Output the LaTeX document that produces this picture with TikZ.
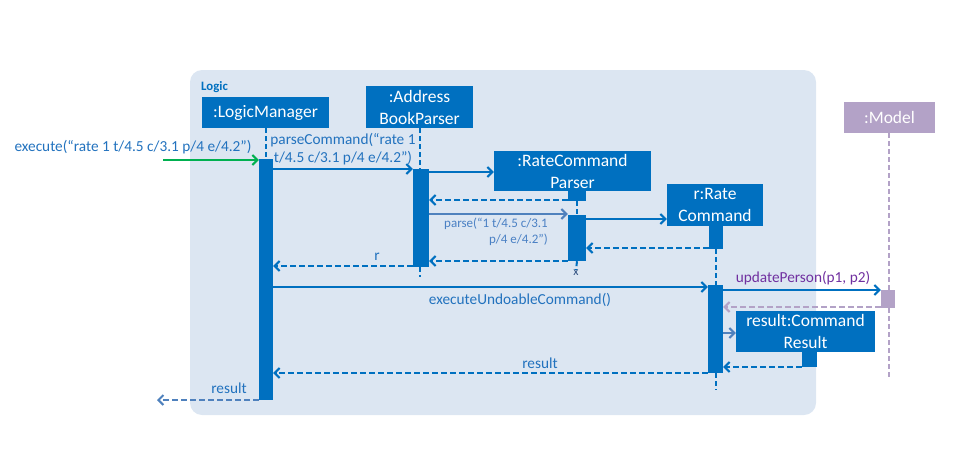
\documentclass[tikz,border=0pt]{standalone}
\usepackage{fontspec}
\setmainfont{Carlito}
\usetikzlibrary{arrows.meta,calc}
\definecolor{uml}{HTML}{0070C0}
\definecolor{steel}{HTML}{4F81BD}
\definecolor{framebg}{HTML}{DCE6F2}
\definecolor{lav}{HTML}{B3A2C7}
\definecolor{purp}{HTML}{7030A0}
\definecolor{grn}{HTML}{00B050}
\definecolor{lbl}{HTML}{2272BE}
\definecolor{lbltwo}{HTML}{4A80C4}
\definecolor{xcol}{HTML}{2F4F7F}
\begin{document}
\begin{tikzpicture}[x=1pt,y=-1pt,
  objbox/.style={fill=uml, text=white, inner sep=0pt, align=center, font=\fontsize{17.5}{22}\selectfont},
  act/.style={inner sep=0pt, draw=none},
  lifeline/.style={uml, line width=2pt, dash pattern=on 5pt off 3pt},
  msg/.style={uml, line width=2pt, -{Straight Barb[length=5pt,width=10pt]}},
  ret/.style={msg, dash pattern=on 6pt off 3pt},
  lab/.style={text=lbl, font=\fontsize{15.3}{18}\selectfont, inner sep=0pt},
]
\useasboundingbox (0,0) rectangle (960,455);
% frame
\fill[framebg, rounded corners=12pt] (190,70) rectangle (816,415);
\node[anchor=west, text=uml, inner sep=0pt, font=\fontsize{12.8}{14}\selectfont\bfseries] (logic) at (201,87) {Logic};

% object boxes
\node[objbox, minimum width=127pt, minimum height=31pt] (lm) at (265.5,112.5) {:LogicManager};
\node[objbox, minimum width=107pt, minimum height=42pt] (abp) at (419.5,107) {:Address\\BookParser};
\node[objbox, minimum width=157pt, minimum height=40pt] (rcp) at (572.5,171) {:RateCommand\\Parser};
\node[objbox, minimum width=96pt, minimum height=42pt] (rc) at (715,205) {r:Rate\\Command};
\node[objbox, minimum width=139pt, minimum height=41pt] (crr) at (805.5,331.5) {result:Command\\Result};
\node[objbox, fill=lav, minimum width=91pt, minimum height=31pt] (model) at (889.5,117.5) {:Model};

% lifeline end coordinates
\coordinate (abpend) at (420,277);
\coordinate (rcend) at (716,390);
\coordinate (modelend) at (889,377);

% x mark
\node[text=xcol, inner sep=0pt, font=\fontsize{12}{12}\selectfont] (rcpx) at (576,273) {x};

% activation placeholders (filled after the lifelines)
\node[act, minimum width=14pt, minimum height=241pt] (lmact) at (266,279.5) {};
\node[act, minimum width=16pt, minimum height=98pt] (abpact) at (421,218) {};
\node[act, minimum width=18pt, minimum height=10pt] (rcpact0) at (577,196) {};
\node[act, minimum width=18pt, minimum height=46pt] (rcpact) at (577,238) {};
\node[act, minimum width=14pt, minimum height=23pt] (rcact0) at (716,237.5) {};
\node[act, minimum width=15pt, minimum height=88pt] (rcact) at (715.5,329) {};
\node[act, minimum width=15pt, minimum height=15pt] (crract) at (809.5,359.5) {};
\node[act, minimum width=14pt, minimum height=18pt] (modelact) at (888,299) {};

% lifelines
\draw[lifeline] (lm.south) -- (lm.south |- lmact.north);
\draw[lifeline] (abp.south) -- (abp.south |- abpact.north);
\draw[lifeline] (abp.south |- abpact.south) -- (abp.south |- abpend);
\draw[lifeline] (rcpact0.south) -- (rcpact.north);
\draw[lifeline] (rcpact.south) -- (rcpx.north);
\draw[lifeline] (rcact0.south) -- (rcact0.south |- rcact.north);
\draw[lifeline] (rcact0.south |- rcact.south) -- (rcact0.south |- rcend);
\draw[lifeline, lav] (model.south -| modelend) -- (modelend |- modelact.north);
\draw[lifeline, lav] (modelend |- modelact.south) -- (modelend);

% activation bars
\fill[uml] (lmact.south west) rectangle (lmact.north east);
\fill[uml] (abpact.south west) rectangle (abpact.north east);
\fill[uml] (rcpact0.south west) rectangle (rcpact0.north east);
\fill[uml] (rcpact.south west) rectangle (rcpact.north east);
\fill[uml] (rcact0.south west) rectangle (rcact0.north east);
\fill[uml] (rcact.south west) rectangle (rcact.north east);
\fill[uml] (crract.south west) rectangle (crract.north east);
\fill[lav] (modelact.south west) rectangle (modelact.north east);

% message levels
\coordinate (start) at (163,160);
\coordinate (y169) at (0,169);
\coordinate (y172) at (0,172);
\coordinate (y200) at (0,200);
\coordinate (y214) at (0,214);
\coordinate (y219) at (0,219);
\coordinate (y248) at (0,248);
\coordinate (y261) at (0,261);
\coordinate (y266) at (0,266);
\coordinate (y287) at (0,287);
\coordinate (y290) at (0,290);
\coordinate (y307) at (0,307);
\coordinate (y333) at (0,333);
\coordinate (y367) at (0,367);
\coordinate (y373) at (0,373);
\coordinate (finalend) at (157,400);

% messages
\draw[msg, grn] (start) -- (start -| lmact.west);
\draw[msg] (lmact.east |- y169) -- (abpact.west |- y169);
\draw[msg] (abpact.east |- y172) -- (rcp.west |- y172);
\draw[ret] (rcpact0.west |- y200) -- (abpact.east |- y200);
\draw[msg, steel] (abpact.east |- y214) -- (rcpact.west |- y214);
\draw[msg] (rcpact.east |- y219) -- (rc.west |- y219);
\draw[ret] (rcact0.west |- y248) -- (rcpact.east |- y248);
\draw[ret] (rcpact.west |- y261) -- (abpact.east |- y261);
\draw[ret] (abpact.west |- y266) -- (lmact.east |- y266);
\draw[msg] (lmact.east |- y287) -- (rcact.west |- y287);
\draw[msg] (rcact.east |- y290) -- (modelact.west |- y290);
\draw[ret, lav] (modelact.west |- y307) -- (rcact.east |- y307);
\draw[msg, steel] (rcact.east |- y333) -- (crr.west |- y333);
\draw[ret] (crract.west |- y367) -- (rcact.east |- y367);
\draw[ret] (rcact.west |- y373) -- (lmact.east |- y373);
\draw[ret, steel] (lmact.west |- finalend) -- (finalend);

% labels
\node[lab] (lexec) at (133,147) {execute(“rate 1 t/4.5 c/3.1 p/4 e/4.2”)};
\node[lab, align=center] (lparsec) at (343,149) {parseCommand(“rate 1\\t/4.5 c/3.1 p/4 e/4.2”)};
\node[lab, text=lbltwo, align=right, anchor=east, font=\fontsize{13}{16}\selectfont] (lparse) at (548,232) {parse(“1 t/4.5 c/3.1\\p/4 e/4.2”)};
\node[lab] (lr) at (377,257) {r};
\node[lab] (lexu) at (520,300) {executeUndoableCommand()};
\node[lab, text=purp] (lupd) at (803,278) {updatePerson(p1, p2)};
\node[lab] (lres) at (540,363) {result};
\node[lab] (lres2) at (229,388) {result};
\end{tikzpicture}
\end{document}
